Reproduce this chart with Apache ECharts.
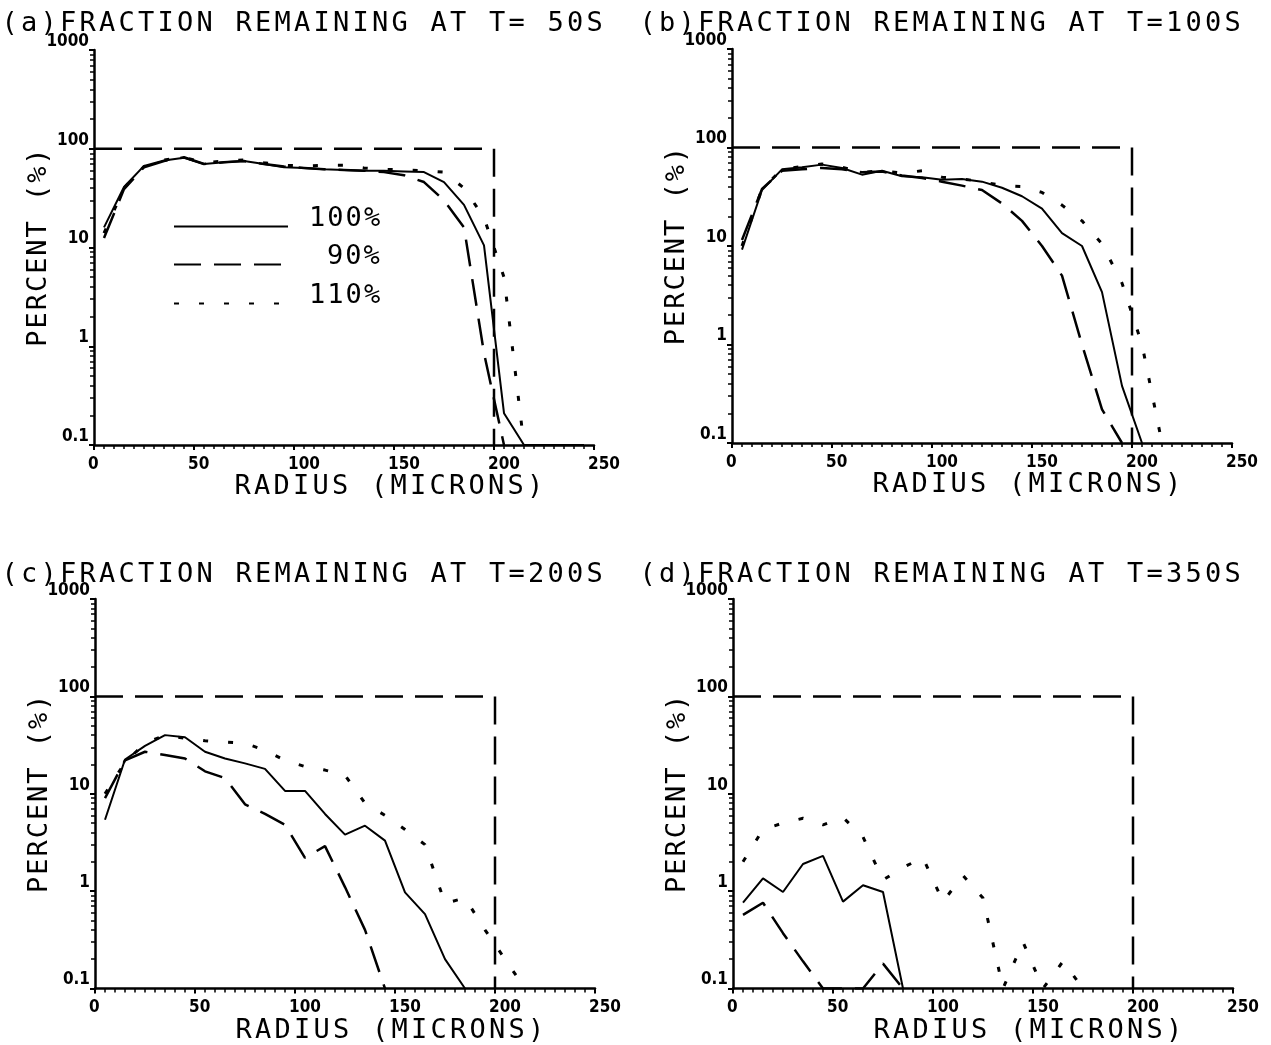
<!DOCTYPE html>
<html lang="en" style="height: 100%">
<head>
<meta charset="utf-8">
<title>Fraction remaining</title>
</head>
<body style="height: 100%; margin: 0; background: #fff">
<div id="container" style="width: 1271px; height: 1045px"></div>

<script type="text/javascript" src="https://cdn.jsdelivr.net/npm/echarts/dist/echarts.min.js"></script>

<script type="text/javascript">

var dom = document.getElementById('container');
var myChart = echarts.init(dom);

// radius bin centres (microns)
var radius = [5, 15, 25, 35, 45, 55, 65, 75, 85, 95, 105, 115, 125, 135, 145, 155, 165, 175, 185, 195, 205, 215, 225, 235, 245];

// initial distribution (the dashed box)
var initRadius = [0, 200, 200];
var initPercent = [100, 100, 0.1];

var titles = [
    '(a)FRACTION REMAINING AT T= 50S',
    '(b)FRACTION REMAINING AT T=100S',
    '(c)FRACTION REMAINING AT T=200S',
    '(d)FRACTION REMAINING AT T=350S'
];
var seriesNames = ['100%', '90%', '110%'];

// percent remaining
var a100 = [16, 41, 67, 76, 81, 70, 73, 75, 70, 65, 64, 62, 61, 60, 60, 59, 58, 46, 27, 10.5, 0.21, 0.1, 0.1, 0.1, 0.1];
var a90  = [12.5, 39, 65, 75, 82, 70, 73, 75, 70, 66, 64, 62, 61, 60, 58, 54, 46, 30, 16, 0.85, 0.1];
var a110 = [14, 40, 66, 77, 82, 72, 75, 77, 72, 68, 67, 68, 68, 64, 62, 61, 60, 58, 40, 20, 5, 0.1];

var b100 = [9.2, 37, 60, 63, 67, 62, 53, 58, 51, 50, 47, 48, 45, 39, 32, 24, 13.5, 10, 3.4, 0.38, 0.1];
var b90  = [11.5, 38, 58, 60, 62, 60, 56, 57, 52, 49, 45, 41, 37, 27, 18, 10, 5, 1.0, 0.22, 0.1];
var b110 = [10, 38, 60, 64, 68, 63, 56, 58, 55, 58, 50, 48, 45, 41, 40, 35, 26, 18, 10.5, 4.2, 1.0, 0.1];

var c100 = [5.4, 22.5, 31, 40, 38, 27, 23, 20.5, 18, 10.7, 10.7, 6.2, 3.8, 4.7, 3.3, 0.97, 0.58, 0.2, 0.1];
var c90  = [9, 22, 27, 25, 23, 17, 14.5, 7.8, 6.2, 4.8, 2.2, 2.9, 1.1, 0.4, 0.1];
var c110 = [10, 21, 33, 40, 37, 35, 34, 33, 28, 22, 19, 17.5, 15.5, 8, 6, 4.3, 3, 0.75, 0.85, 0.4, 0.2, 0.1];

var d100 = [0.76, 1.35, 0.98, 1.9, 2.3, 0.78, 1.15, 0.98, 0.1];
var d90  = [0.57, 0.76, 0.37, 0.19, 0.1, 0.1, 0.1, 0.18, 0.1];
var d110 = [2.0, 4.3, 5.0, 5.6, 4.8, 5.7, 3.6, 1.3, 1.75, 2.2, 0.78, 1.45, 0.85, 0.1, 0.3, 0.1, 0.19, 0.1];

var panels = [[a100, a90, a110], [b100, b90, b110], [c100, c90, c110], [d100, d90, d110]];

var grids = [
    {left: 94, top: 50, width: 500, height: 395},
    {left: 732, top: 49, width: 500, height: 394},
    {left: 95, top: 599, width: 500, height: 392},
    {left: 733, top: 599, width: 500, height: 392}
];
var titlePos = [[0, 9], [638, 9], [0, 560], [638, 560]];

var MONO = '"DejaVu Sans Mono", "Liberation Mono", monospace';
var TICKFONT = '"DejaVu Sans Condensed", "DejaVu Sans", sans-serif';

// plotter-style lettering: one fixed-width cell per character
function spaced(s) {
    return s.split('').map(function (ch) { return '{c|' + ch + '}'; }).join('');
}
function cellRich(w) {
    return {c: {width: w, align: 'center', fontFamily: MONO, fontSize: 27, fontWeight: 'normal', lineHeight: 30, color: '#000'}};
}

var lineTypes = ['solid', [27, 13], [5, 20]];
var lineWidths = [2, 2.5, 3];

function zip(xs, ys) {
    return ys.map(function (y, i) { return [xs[i], y]; });
}

var xAxes = [], yAxes = [], series = [], titleList = [];
grids.forEach(function (g, i) {
    titleList.push({
        text: spaced(titles[i]),
        left: titlePos[i][0],
        top: titlePos[i][1],
        padding: 0,
        textStyle: {fontWeight: 'normal', rich: cellRich(19.5)}
    });
    xAxes.push({
        gridIndex: i,
        type: 'value',
        min: 0,
        max: 250,
        interval: 50,
        name: spaced('RADIUS (MICRONS)'),
        nameLocation: 'middle',
        nameGap: 27,
        nameMoveOverlap: false,
        nameTextStyle: {padding: [0, 0, 0, 90], rich: cellRich(19.5)},
        axisLine: {lineStyle: {color: '#000', width: 2.5}},
        axisTick: {length: 5, lineStyle: {color: '#000', width: 2}},
        minorTick: {show: true, splitNumber: 10, length: 4, lineStyle: {color: '#000', width: 1.5}},
        splitLine: {show: false},
        axisLabel: {
            align: 'left', margin: 11, color: '#000', padding: [0, 0, 0, -6],
            fontFamily: TICKFONT, fontWeight: 'bold', fontSize: 17
        }
    });
    yAxes.push({
        gridIndex: i,
        type: 'log',
        logBase: 10,
        min: 0.1,
        max: 1000,
        name: spaced('PERCENT (%)'),
        nameLocation: 'middle',
        nameGap: 40,
        nameMoveOverlap: false,
        nameTextStyle: {rich: cellRich(18.2)},
        axisLine: {lineStyle: {color: '#000', width: 2.5}},
        axisTick: {length: 5, lineStyle: {color: '#000', width: 2}},
        minorTick: {show: true, splitNumber: 9, length: 4, lineStyle: {color: '#000', width: 1.5}},
        splitLine: {show: false},
        axisLabel: {
            verticalAlign: 'bottom', margin: 5, color: '#000',
            fontFamily: TICKFONT, fontWeight: 'bold', fontSize: 17,
            formatter: function (v) { return String(+v.toPrecision(3)); }
        }
    });
    series.push({
        name: 'initial',
        type: 'line',
        xAxisIndex: i,
        yAxisIndex: i,
        symbol: 'none',
        silent: true,
        data: zip(initRadius, initPercent),
        itemStyle: {color: '#000'},
        lineStyle: {color: '#000', width: 2.5, type: [28, 12]}
    });
    panels[i].forEach(function (vals, k) {
        series.push({
            name: seriesNames[k],
            type: 'line',
            xAxisIndex: i,
            yAxisIndex: i,
            symbol: 'none',
            silent: true,
            data: zip(radius, vals),
            itemStyle: {color: '#000'},
            lineStyle: {color: '#000', width: lineWidths[k], type: lineTypes[k]}
        });
    });
});

// legend drawn inside panel (a), one row per case
var legendTops = [205, 243, 282];
var legendPadLeft = [15, 33, 15];
var legends = seriesNames.map(function (n, k) {
    return {
        data: [n],
        left: 173,
        top: legendTops[k],
        padding: 0,
        itemWidth: 114,
        itemHeight: 14,
        selectedMode: false,
        itemStyle: {color: 'transparent', borderWidth: 0},
        formatter: function (name) { return spaced(name); },
        textStyle: {padding: [0, 0, 16, legendPadLeft[k]], rich: cellRich(18.3)}
    };
});

var option = {
    animation: false,
    backgroundColor: '#fff',
    title: titleList,
    legend: legends,
    grid: grids,
    xAxis: xAxes,
    yAxis: yAxes,
    series: series
};

myChart.setOption(option);
window.addEventListener('resize', myChart.resize);
</script>
</body>
</html>
